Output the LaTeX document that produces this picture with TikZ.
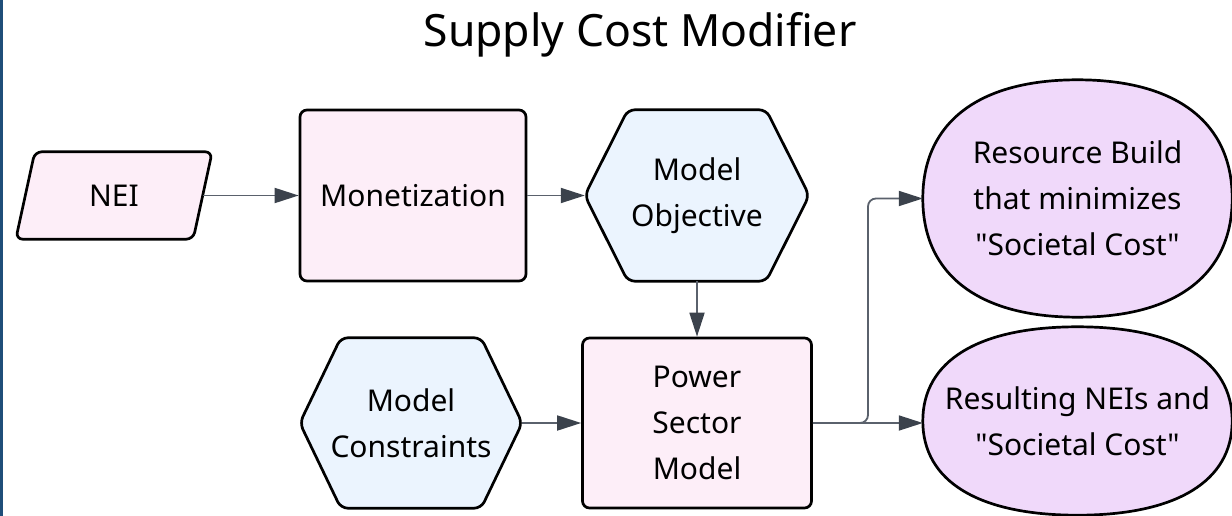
\documentclass[tikz,border=0pt]{standalone}
\usepackage{fontspec}
\setmainfont{Noto Sans}[Ligatures=TeXOff]
\usetikzlibrary{arrows.meta,calc,backgrounds}
\definecolor{pinkfill}{HTML}{FDEEF8}
\definecolor{bluefill}{HTML}{EBF4FE}
\definecolor{lavfill}{HTML}{F0D9FA}
\definecolor{conncol}{HTML}{5A616C}
\definecolor{headcol}{HTML}{3B424C}
\definecolor{borderblue}{HTML}{1F4E79}
\newcommand\drawsquircle[2]{%
  \path[#2] (#1.north)
    .. controls ($(#1.north)!0.64!(#1.north east)$) and ($(#1.east)!0.64!(#1.north east)$) .. (#1.east)
    .. controls ($(#1.east)!0.64!(#1.south east)$) and ($(#1.south)!0.64!(#1.south east)$) .. (#1.south)
    .. controls ($(#1.south)!0.64!(#1.south west)$) and ($(#1.west)!0.64!(#1.south west)$) .. (#1.west)
    .. controls ($(#1.west)!0.64!(#1.north west)$) and ($(#1.north)!0.64!(#1.north west)$) .. cycle;}
\newcommand\drawhexagon[3]{%
  \path[#2, rounded corners=7pt] (#1.north) -- ([xshift=-#3]#1.north east) -- (#1.east)
    -- ([xshift=-#3]#1.south east) -- ([xshift=#3]#1.south west) -- (#1.west)
    -- ([xshift=#3]#1.north west) -- cycle;}
\begin{document}
\begin{tikzpicture}[x=1pt,y=-1pt,
  txt/.style={align=center, inner sep=0pt, font=\fontsize{30}{46}\selectfont},
  outline/.style={draw=black, line width=2.7pt},
  rectbox/.style={txt, outline, fill=pinkfill, rounded corners=7pt},
  hexfill/.style={outline, fill=bluefill},
  resfill/.style={outline, fill=lavfill},
  neifill/.style={outline, fill=pinkfill},
  conn/.style={draw=conncol, line width=1.8pt, -{Triangle[length=24pt,width=15pt,color=headcol]}}]
\useasboundingbox (0,0) rectangle (1232,516);
\fill[borderblue] (0,0) rectangle (2.5,516);

% title
\node[anchor=base, font=\fontsize{44.5}{50}\selectfont] (title) at (640,47) {Supply Cost Modifier};

% nodes
\node[txt, minimum width=196pt, minimum height=87pt] (nei) at (114,195.5) {NEI};
\node[rectbox, minimum width=226pt, minimum height=171pt] (mon) at (413,195.5) {Monetization};
\node[txt, minimum width=224pt, minimum height=171pt] (obj) at (697,195.5) {Model\\Objective};
\node[txt, minimum width=222pt, minimum height=170pt] (con) at (411,423) {Model\\Constraints};
\node[rectbox, minimum width=229pt, minimum height=170pt] (pow) at (697,423) {Power\\Sector\\Model};
\node[txt, minimum width=309pt, minimum height=237pt] (res1) at (1077.5,198.5) {Resource Build\\that minimizes\\"Societal Cost"};
\node[txt, minimum width=309pt, minimum height=188pt] (res2) at (1077.5,421) {Resulting NEIs and\\"Societal Cost"};

\begin{scope}[on background layer]
  \path[neifill, rounded corners=7pt] (nei.north) -- (nei.north east) -- ([xshift=-19pt]nei.south east)
    -- (nei.south west) -- ([xshift=19pt]nei.north west) -- cycle;
  \drawhexagon{obj}{hexfill}{43pt}
  \drawhexagon{con}{hexfill}{41pt}
  \drawsquircle{res1}{resfill}
  \drawsquircle{res2}{resfill}
\end{scope}

% connectors
\coordinate (split) at (868,423);
\draw[conn] ([xshift=-9.5pt]nei.east) -- (mon.west);
\draw[conn] (mon.east) -- (obj.west);
\draw[conn] (obj.south) -- (pow.north);
\draw[conn] (con.east) -- (pow.west);
\draw[conn] (pow.east) -- (pow.east -| res2.west);
\draw[conn, rounded corners=8pt] (pow.east) -- (split) |- (res1.west);
\end{tikzpicture}
\end{document}
